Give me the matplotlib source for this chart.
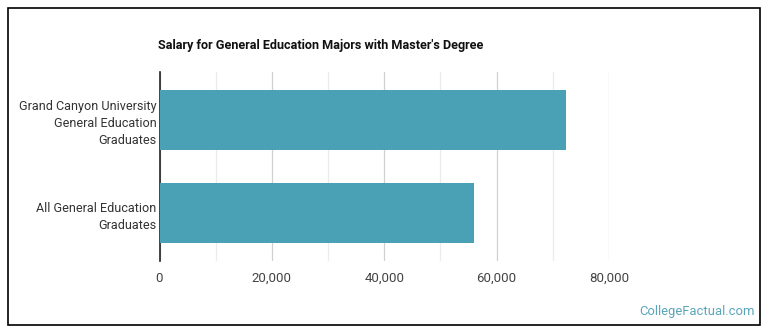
import matplotlib
matplotlib.use('Agg')
import matplotlib.pyplot as plt
from matplotlib.patches import Rectangle
from matplotlib.ticker import FuncFormatter, MultipleLocator

# data
categories = ['Grand Canyon University\nGeneral Education\nGraduates',
              'All General Education\nGraduates']
salaries = [72400, 56000]
title = "Salary for General Education Majors with Master's Degree"

plt.rcParams['font.family'] = ['Roboto', 'DejaVu Sans']

W, H = 770, 335
fig = plt.figure(figsize=(W / 100, H / 100), dpi=100)
fig.patch.set_facecolor('white')

# outer frame
fig.patches.append(Rectangle((8 / W, 1 - 325 / H), 752 / W, 317 / H,
                             transform=fig.transFigure, fill=False,
                             edgecolor='black', linewidth=1.2))

ax = fig.add_axes([159.5 / W, 1 - 261 / H, (609 - 159.5) / W, (261 - 72) / H])
ax.barh(range(len(categories)), salaries, height=0.64, color='#4AA0B5', zorder=3)
ax.set_ylim(1.51, -0.51)
ax.set_xlim(0, 80000)
ax.set_yticks(range(len(categories)))
ax.set_yticklabels(categories, fontsize=9.1, color='#333333', linespacing=1.4)

ax.xaxis.set_major_locator(MultipleLocator(20000))
ax.xaxis.set_minor_locator(MultipleLocator(10000))
ax.xaxis.set_major_formatter(FuncFormatter(lambda v, p: f'{int(v):,}'))
ax.tick_params(axis='x', which='both', length=0, labelsize=9.5, labelcolor='#444444', pad=8)
ax.tick_params(axis='y', length=0, pad=2)
ax.grid(axis='x', which='major', color='#d0d0d0', linewidth=0.9, zorder=0)
ax.grid(axis='x', which='minor', color='#ebebeb', linewidth=0.9, zorder=0)

for s in ['top', 'right', 'bottom']:
    ax.spines[s].set_visible(False)
ax.spines['left'].set_color('#222222')
ax.spines['left'].set_linewidth(1.2)

fig.text(158 / W, 1 - 45 / H, title, fontsize=9.1, fontweight='bold',
         color='#111111', ha='left', va='center')
fig.text(755 / W, 1 - 311 / H, 'CollegeFactual.com', fontsize=9.4,
         color='#5AA5BA', ha='right', va='center')

fig.savefig('out.png', dpi=100, facecolor='white')
